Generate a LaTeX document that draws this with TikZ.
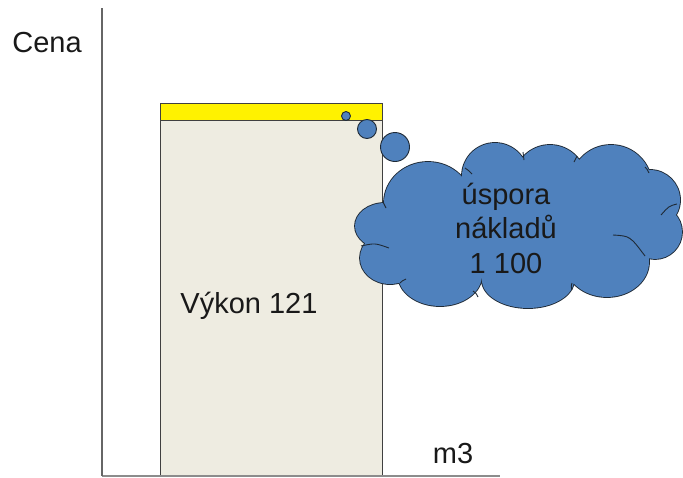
\documentclass[tikz,border=0pt]{standalone}
\usepackage{fontspec}
\setmainfont{Liberation Sans}
\begin{document}
\begin{tikzpicture}[x=1pt,y=-1pt,
  axis/.style={draw=black!60,line width=1.3pt},
  baseaxis/.style={draw=black!45,line width=1.3pt},
  barbox/.style={draw=black!75,line width=1pt},
  puff/.style={fill=cloudblue,draw=cloudline,line width=0.9pt},
  crease/.style={draw=cloudline,line width=0.9pt},
  lbl/.style={font=\fontsize{29}{34.5}\selectfont,text=black!90,inner sep=0pt,anchor=base}]
\definecolor{cloudblue}{HTML}{4F81BD}
\definecolor{cloudline}{HTML}{1F2A36}
\definecolor{barbeige}{HTML}{EEECE1}
\useasboundingbox (0,0) rectangle (683,477);

% bar
\path[barbox,fill=barbeige] (160,120) rectangle (382,476);
\path[barbox,fill=yellow] (160,103) rectangle (382,120);

% axes
\coordinate (top) at (102,8);
\coordinate (origin) at (102,476);
\coordinate (xend) at (500,476);
\draw[baseaxis] (origin) -- (xend);
\draw[axis] (top) -- (origin);

% thought bubbles
\path[puff] (346,116) circle (4.5);
\path[puff] (367,129) circle (9.5);
\path[puff] (395,147) circle (14.5);

% cloud: union of lobes, outlined first and then filled over
\newcommand\cloudlobes{%
  (428,203) ellipse [x radius=44,y radius=41]
  (495,176) circle (33)
  (550,181) circle (36)
  (611,186) circle (41)
  (650,200) circle (30)
  (655,232) circle (27)
  (607,262) ellipse [x radius=42,y radius=35]
  (528,280) ellipse [x radius=46,y radius=28]
  (440,275) ellipse [x radius=42,y radius=31]
  (390,258) ellipse [x radius=30,y radius=26]
  (385,226) ellipse [x radius=30,y radius=23]
  (520,225) ellipse [x radius=120,y radius=55]}
\path[draw=cloudline,line width=1.8pt] \cloudlobes;
\path[fill=cloudblue] \cloudlobes;

% inner creases between the lobes
\draw[crease] (383,202) .. controls (384,205) .. (386,208);
\draw[crease] (361,246) .. controls (375,243) .. (389,248);
\draw[crease] (400,283) .. controls (402,281) .. (406,279);
\draw[crease] (478,297) .. controls (476,293) .. (473,291);
\draw[crease] (465,168) .. controls (468,170) .. (472,174);
\draw[crease] (523,152) .. controls (524,156) .. (524,160);
\draw[crease] (577,156) .. controls (576,159) .. (574,162);
\draw[crease] (645,167) .. controls (647,169) .. (649,173);
\draw[crease] (677,204) .. controls (669,206) .. (661,215);
\draw[crease] (613,235) .. controls (630,236) .. (645,256);
\draw[crease] (572,283) .. controls (571,286) .. (572,290);

% labels
\node[lbl] (cena) at (47,52) {Cena};
\node[lbl] (vykon) at (249,313) {Výkon 121};
\node[lbl] (m3) at (453,463) {m3};
\node[lbl,align=center,anchor=center] (uspora) at (506,228) {úspora\\nákladů\\1 100};
\end{tikzpicture}
\end{document}
